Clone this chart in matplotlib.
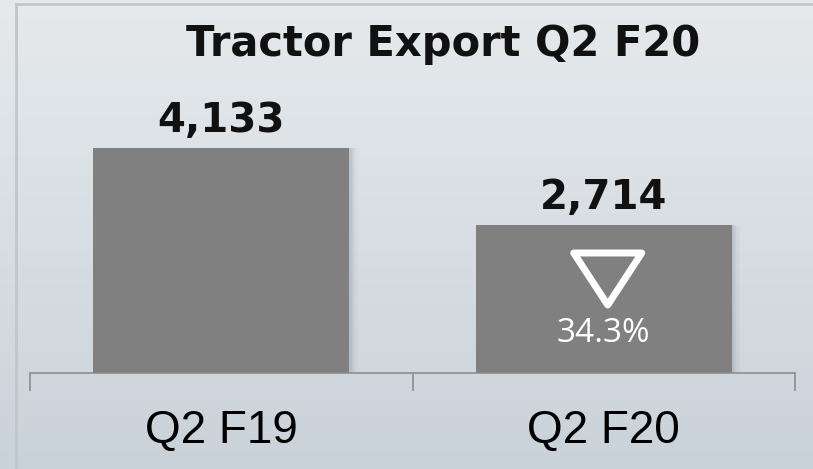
import matplotlib
matplotlib.use("Agg")
import matplotlib.pyplot as plt
import numpy as np
from matplotlib.patches import Polygon, Rectangle

categories = ["Q2 F19", "Q2 F20"]
values = [4133, 2714]
value_labels = ["4,133", "2,714"]
change_label = "34.3%"
title = "Tractor Export Q2 F20"

W, H = 813, 469
fig = plt.figure(figsize=(W / 100, H / 100), dpi=100)

# background gradient
bg = fig.add_axes([0, 0, 1, 1])
grad = np.linspace(0, 1, 256).reshape(-1, 1)
top = np.array([0xe6, 0xea, 0xed]) / 255
bot = np.array([0xca, 0xd2, 0xd9]) / 255
img = top + (bot - top) * grad[:, :, None]
bg.imshow(img, aspect="auto", extent=[0, 1, 0, 1], origin="upper")
bg.set_xlim(0, 1); bg.set_ylim(0, 1)
bg.axis("off")
bg.plot([16 / W, 16 / W], [0, 1 - 4 / H], color="#c2c6c9", lw=2.0)
bg.plot([16 / W, 1], [1 - 4 / H, 1 - 4 / H], color="#c2c6c9", lw=2.0)

axis_y = 373
top_y = 50
px_per_unit = (373 - 148) / values[0]
ymax = (axis_y - top_y) / px_per_unit
ax = fig.add_axes([30 / W, (H - axis_y) / H, (795 - 30) / W, (axis_y - top_y) / H])
ax.set_facecolor("none")
ax.set_xlim(-0.5, 1.5)
ax.set_ylim(0, ymax)

x = np.arange(len(categories))
bw = 0.67
for i, v in zip(x, values):
    for k, a in enumerate([0.10, 0.07, 0.04, 0.02]):
        off = (k + 1) * 0.006
        ax.add_patch(Rectangle((i - bw / 2 + off, 0), bw, v - off * 300, color="#5a6570",
                               alpha=a, lw=0, zorder=1))
ax.bar(x, values, width=bw, color="#808080", zorder=2)

for s in ["top", "right", "left"]:
    ax.spines[s].set_visible(False)
ax.spines["bottom"].set_color("#8c8c8c")
ax.spines["bottom"].set_linewidth(1.2)
ax.set_yticks([])
ax.set_xticks([-0.5, 0.5, 1.5])
ax.set_xticklabels([])
ax.tick_params(axis="x", length=13, width=1.2, color="#8c8c8c", direction="out")

for i, c in zip(x, categories):
    ax.text(i, -(431 - axis_y) / px_per_unit, c, ha="center", va="center",
            fontsize=33, fontfamily="Liberation Sans", color="black")

for i, v, lab in zip(x, values, value_labels):
    ax.text(i, v + 27 / px_per_unit, lab, ha="center", va="center",
            fontsize=29, fontweight="bold", fontfamily="DejaVu Sans", color="#111111")

cx = x[1] + (607 - 603) / 382.5
tri_top = (axis_y - 253) / px_per_unit
tri_bot = (axis_y - 305) / px_per_unit
hw = 34 / 382.5
ax.add_patch(Polygon([[cx - hw, tri_top], [cx + hw, tri_top], [cx, tri_bot]], closed=True,
                     fill=False, edgecolor="white", lw=5, joinstyle="round", zorder=3))
ax.text(x[1], (axis_y - 334) / px_per_unit, change_label, ha="center",
        va="center", fontsize=24, color="white", fontfamily="Open Sans", zorder=3)

fig.text(443 / W, 1 - 44 / H, title, ha="center", va="center", fontsize=30,
         fontweight="bold", fontfamily="DejaVu Sans", color="#111111")

fig.savefig("out.png", dpi=100)
